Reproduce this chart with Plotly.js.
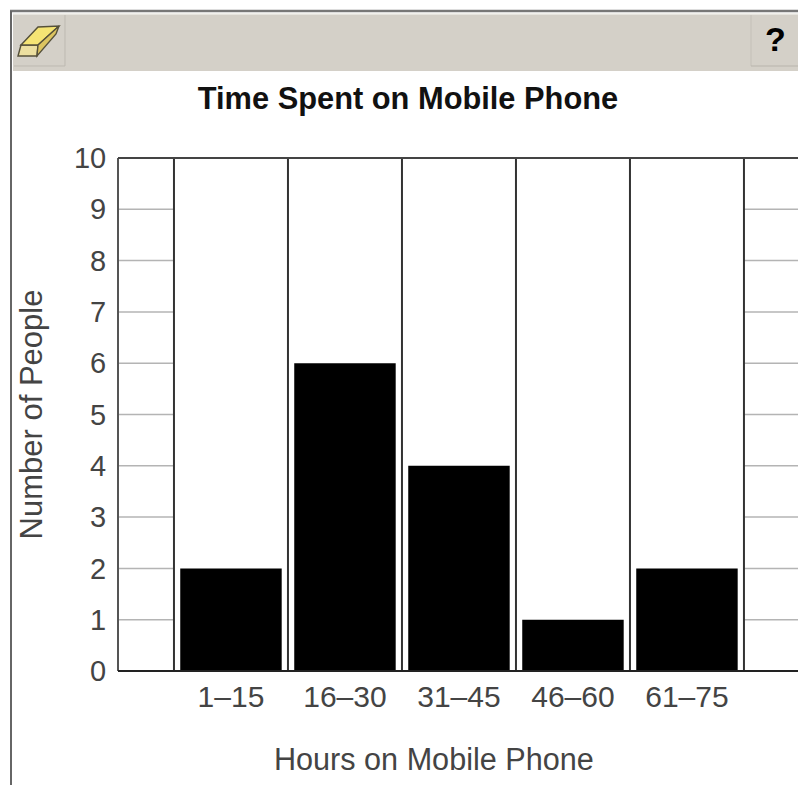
<!DOCTYPE html>
<html><head><meta charset="utf-8">
<script src="https://cdn.plot.ly/plotly-3.0.1.min.js"></script>
<style>html,body{margin:0;padding:0;background:#fff;overflow:hidden}#c{width:798px;height:785px}</style>
</head><body><div id="c"></div>
<script>
const categories = ["1–15","16–30","31–45","46–60","61–75"];
const counts = [2,6,4,1,2];
const positions = [0,1,2,3,4];
const boundaries = [-0.5,0.5,1.5,2.5,3.5,4.5];
const yTicks = [0,1,2,3,4,5,6,7,8,9,10];
const xRange = [-0.991,4.974];

const W=798,H=785,L=118,T=158,B=671;
const px=x=>(x-L)/(W-L), py=y=>(B-y)/(B-T);
const pRect=(x0,y0,x1,y1,fill)=>({type:'rect',xref:'paper',yref:'paper',x0:px(x0),x1:px(x1),y0:py(y0),y1:py(y1),fillcolor:fill,line:{width:0},layer:'above'});
const pLine=(x0,y0,x1,y1,c,w)=>({type:'line',xref:'paper',yref:'paper',x0:px(x0),x1:px(x1),y0:py(y0),y1:py(y1),line:{color:c,width:w},layer:'above'});
const pPath=(pts,fill)=>({type:'path',xref:'paper',yref:'paper',path:'M'+pts.map(p=>px(p[0])+' '+py(p[1])).join('L')+'Z',fillcolor:fill,line:{color:'#55503a',width:1.4},layer:'above'});
const gridLine=(a,b,v)=>({type:'line',xref:'x',yref:'y',x0:a,x1:b,y0:v,y1:v,line:{color:'#b4b4b4',width:1.5},layer:'below'});

const shapes=[
 ...yTicks.slice(1,-1).flatMap(v=>[gridLine(xRange[0],boundaries[0],v),gridLine(boundaries[5],xRange[1],v)]),
 ...boundaries.map(b=>({type:'line',xref:'x',yref:'y',x0:b,x1:b,y0:0,y1:10,line:{color:'#333',width:2},layer:'below'})),
 pRect(13,14,798,71,'#d4d0c8'),
 pLine(10,11,798,11,'#777',2.5),
 pLine(11,11,11,785,'#666',2),
 pLine(13,14,798,14,'#ecebe6',1.5),
 pLine(65,15,65,66,'#bdb9b1',1),
 pLine(14,66,65,66,'#bdb9b1',1),
 pLine(751,15,751,66,'#c4c0b8',1),
 pLine(751,66,798,66,'#b8b4ac',1),
 pPath([[18,56],[21,45],[38,45],[37,56]],'#ecdfa0'),
 pPath([[21,45],[38,27],[59,26],[38,45]],'#f5e474'),
 pPath([[38,45],[59,26],[56,34],[37,56]],'#dcc460')
];

Plotly.newPlot('c',[{
  type:'bar',x:positions,y:counts,width:0.89,marker:{color:'#000',line:{width:0}},hoverinfo:'skip'
}],{
  width:W,height:H,margin:{l:L,r:0,t:T,b:H-B,pad:0},
  paper_bgcolor:'#fff',plot_bgcolor:'#fff',showlegend:false,
  font:{family:'"Liberation Sans",Arial,sans-serif',color:'#444'},
  title:{text:'<b>Time Spent on Mobile Phone</b>',font:{size:30.8,color:'#111',family:'"Liberation Sans",Arial,sans-serif'},x:408/W,xanchor:'center',y:1-98/H,yanchor:'middle'},
  xaxis:{type:'linear',range:xRange,tickmode:'array',tickvals:positions,ticktext:categories,
    showgrid:false,zeroline:false,showline:false,ticks:'',ticklabelstandoff:5,tickfont:{size:30,color:'#444'}},
  yaxis:{range:[0,10],tickmode:'array',tickvals:yTicks,showgrid:false,zeroline:false,
    showline:false,ticks:'outside',ticklen:5,tickcolor:'rgba(0,0,0,0)',tickfont:{size:29,color:'#444'},
    title:{text:'Number of People',font:{size:31,color:'#444'},standoff:22}},
  shapes:[...shapes,
    {type:'line',xref:'paper',yref:'paper',x0:0,x1:0,y0:0,y1:1,line:{color:'#555',width:2},layer:'above'},
    {type:'line',xref:'paper',yref:'paper',x0:0,x1:1,y0:1,y1:1,line:{color:'#444',width:2},layer:'above'},
    {type:'line',xref:'paper',yref:'paper',x0:0,x1:1,y0:0,y1:0,line:{color:'#222',width:2},layer:'above'}],
  annotations:[
    {text:'<b>?</b>',xref:'paper',yref:'paper',x:px(775),y:py(39),showarrow:false,xanchor:'center',yanchor:'middle',font:{size:34,color:'#000',family:'"Liberation Sans",Arial,sans-serif'}},
    {text:'Hours on Mobile Phone',xref:'paper',yref:'paper',x:px(434),y:py(759),showarrow:false,xanchor:'center',yanchor:'middle',font:{size:30.6,color:'#444'}}
  ]
},{displayModeBar:false,staticPlot:true});
</script></body></html>
